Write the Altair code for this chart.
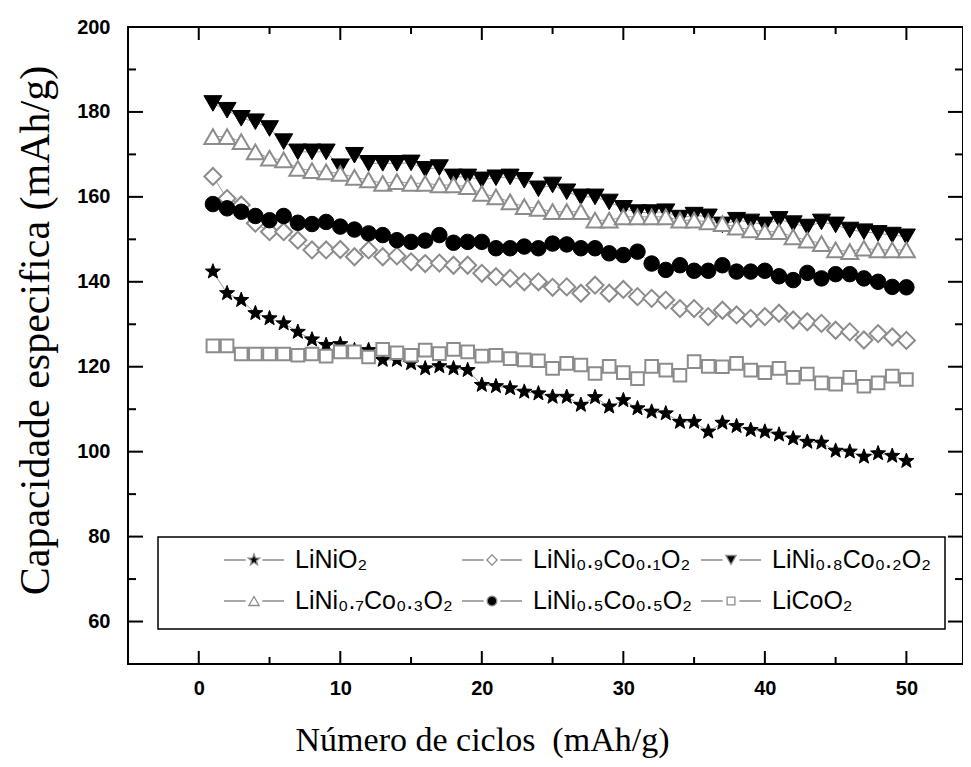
import math
import altair as alt
import pandas as pd

# ---------------- data ----------------
cycles = list(range(1, 51))

series_names = ["LiNiO₂", "LiNi₀.₉Co₀.₁O₂", "LiNi₀.₈Co₀.₂O₂",
                "LiNi₀.₇Co₀.₃O₂", "LiNi₀.₅Co₀.₅O₂", "LiCoO₂"]

lino2 = [142.4, 137.3, 135.7, 132.6, 131.4, 130.2, 128.2, 126.4, 125.1, 125.3,
         123.9, 123.9, 121.6, 121.6, 120.8, 119.6, 120.1, 119.6, 119.2, 115.7,
         115.4, 114.9, 114.1, 113.7, 112.9, 112.9, 111.0, 112.8, 110.6, 112.1,
         110.2, 109.4, 109.0, 107.0, 107.0, 104.7, 106.8, 106.0, 105.1, 104.7,
         104.0, 103.1, 102.3, 102.1, 100.2, 100.0, 98.8, 99.6, 99.0, 97.8]

ni09 = [164.8, 159.6, 158.1, 153.8, 151.8, 151.8, 149.8, 147.5, 147.5, 147.6,
        145.9, 147.5, 145.9, 146.1, 144.7, 144.3, 144.4, 143.9, 143.9, 142.0,
        141.2, 140.8, 140.0, 140.0, 138.7, 138.8, 137.3, 139.2, 137.3, 138.2,
        136.5, 136.1, 135.7, 133.7, 133.7, 131.8, 133.3, 132.2, 131.4, 131.8,
        132.6, 131.0, 130.6, 130.2, 128.6, 128.2, 126.3, 127.8, 127.0, 126.2]

ni08 = [182.0, 180.4, 178.5, 177.7, 176.1, 173.0, 170.6, 170.6, 170.6, 167.1,
        169.8, 167.9, 167.9, 167.9, 168.0, 166.5, 166.9, 164.7, 164.7, 164.0,
        164.5, 164.7, 163.9, 161.9, 162.8, 161.2, 160.0, 160.0, 158.8, 157.3,
        156.3, 156.3, 156.5, 155.0, 155.7, 155.3, 153.4, 154.5, 154.1, 153.4,
        154.7, 153.7, 152.9, 154.1, 153.4, 152.2, 151.8, 151.4, 151.0, 150.6]

ni07 = [174.2, 174.2, 173.0, 170.6, 169.1, 168.7, 166.7, 166.2, 165.9, 165.5,
        164.6, 164.0, 163.2, 163.6, 163.2, 163.2, 162.8, 162.8, 162.4, 160.8,
        160.0, 158.8, 157.7, 157.3, 156.5, 156.5, 156.5, 154.5, 154.5, 155.3,
        155.3, 155.3, 155.3, 154.5, 154.5, 154.1, 153.7, 152.9, 152.2, 151.8,
        151.8, 150.6, 149.8, 149.0, 147.5, 147.1, 147.9, 147.5, 147.5, 147.5]

ni05 = [158.3, 157.3, 156.5, 155.5, 154.5, 155.5, 153.9, 153.6, 154.1, 153.0,
        152.3, 151.4, 151.0, 149.8, 149.4, 149.7, 151.0, 149.2, 149.4, 149.4,
        147.9, 147.9, 148.3, 147.9, 149.0, 148.8, 147.9, 147.9, 146.7, 146.3,
        147.1, 144.3, 142.8, 143.9, 142.6, 142.6, 143.9, 142.4, 142.4, 142.6,
        141.3, 140.4, 142.1, 140.8, 141.8, 141.8, 140.8, 140.0, 138.8, 138.7]

licoo2 = [124.9, 124.9, 123.0, 123.0, 123.0, 123.0, 122.7, 123.0, 122.5, 123.5,
          123.5, 122.3, 124.1, 123.3, 122.7, 123.9, 123.1, 124.1, 123.5, 122.5,
          122.7, 121.9, 121.6, 121.4, 119.6, 120.8, 120.4, 118.4, 120.1, 118.6,
          117.2, 120.1, 119.2, 118.0, 121.2, 120.1, 120.0, 120.8, 119.2, 118.6,
          119.6, 117.5, 118.3, 116.2, 115.9, 117.5, 115.4, 116.2, 117.8, 117.0]

x_ticks_major = [0, 10, 20, 30, 40, 50]
x_ticks_minor = [5, 15, 25, 35, 45]
y_ticks_major = [60, 80, 100, 120, 140, 160, 180, 200]
y_ticks_minor = [70, 90, 110, 130, 150, 170, 190]

all_values = [lino2, ni09, ni08, ni07, ni05, licoo2]
rows = []
for name, vals in zip(series_names, all_values):
    for c, v in zip(cycles, vals):
        rows.append({"cycle": c, "capacity": v, "series": name})
df = pd.DataFrame(rows)

# ---------------- styles ----------------
GRAY = "#8c8c8c"
W, H = 835, 637
X_DOM = [-5, 54]
Y_DOM = [50, 200]
PX_X = W / (X_DOM[1] - X_DOM[0])
PX_Y = H / (Y_DOM[1] - Y_DOM[0])


def poly(pts):
    return "M" + "L".join(f"{x:.4f},{y:.4f}" for x, y in pts) + "Z"


def star(s):
    pts = []
    for k in range(10):
        a = math.radians(-90 + 36 * k)
        r = s if k % 2 == 0 else s * 0.42
        pts.append((r * math.cos(a), r * math.sin(a)))
    return poly(pts)


def circle(s):
    return poly([(s * math.cos(2 * math.pi * k / 24), s * math.sin(2 * math.pi * k / 24)) for k in range(24)])


STAR = star(1.0)
STUB = "M-1,0L-0.28,0M0.28,0L1,0"
legend_paths = [
    star(0.2) + STUB,
    poly([(-0.17, 0), (0, -0.17), (0.17, 0), (0, 0.17)]) + STUB,
    poly([(-0.17, -0.15), (0.17, -0.15), (0, 0.15)]) + STUB,
    poly([(-0.17, 0.15), (0.17, 0.15), (0, -0.15)]) + STUB,
    circle(0.16) + STUB,
    poly([(-0.13, -0.13), (0.13, -0.13), (0.13, 0.13), (-0.13, 0.13)]) + STUB,
]

point_styles = {
    series_names[0]: dict(shape=STAR, fill="black", stroke="black", size=250, strokeWidth=1),
    series_names[1]: dict(shape="diamond", fill="white", stroke=GRAY, size=289, strokeWidth=2),
    series_names[2]: dict(shape="triangle-down", fill="black", stroke="black", size=324, strokeWidth=1),
    series_names[3]: dict(shape="triangle-up", fill="white", stroke=GRAY, size=289, strokeWidth=2),
    series_names[4]: dict(shape="circle", fill="black", stroke="black", size=240, strokeWidth=1),
    series_names[5]: dict(shape="square", fill="white", stroke=GRAY, size=160, strokeWidth=2),
}

x_scale = alt.Scale(domain=X_DOM, nice=False, zero=False)
y_scale = alt.Scale(domain=Y_DOM, nice=False, zero=False)

# one table for the frame ticks: position value, which edge, and length in pixels
tick_rows = []
for v in x_ticks_major:
    tick_rows += [{"t": v, "edge": "bottom", "len": 13}, {"t": v, "edge": "top", "len": 13}]
for v in x_ticks_minor:
    tick_rows += [{"t": v, "edge": "bottom", "len": 7}, {"t": v, "edge": "top", "len": 7}]
for v in y_ticks_major:
    tick_rows += [{"t": v, "edge": "left", "len": 15}, {"t": v, "edge": "right", "len": 15}]
for v in y_ticks_minor:
    tick_rows += [{"t": v, "edge": "left", "len": 8}, {"t": v, "edge": "right", "len": 8}]
ticks_df = pd.DataFrame(tick_rows)
ticks_df["a"] = ticks_df["edge"].map({"bottom": Y_DOM[0], "top": Y_DOM[1], "left": X_DOM[0], "right": X_DOM[1]})
sign = ticks_df["edge"].map({"bottom": 1, "top": -1, "left": 1, "right": -1})
scale_px = ticks_df["edge"].map({"bottom": PX_Y, "top": PX_Y, "left": PX_X, "right": PX_X})
ticks_df["b"] = ticks_df["a"] + sign * ticks_df["len"] / scale_px

base = alt.Chart(df)

x_main = alt.Axis(values=x_ticks_major, orient="bottom", domain=False, ticks=False, grid=False,
                  labelFont="Liberation Sans", labelFontWeight="bold", labelFontSize=20,
                  labelColor="black", labelPadding=14,
                  title="Número de ciclos\u00a0 (mAh/g)", titleFont="Liberation Serif",
                  titleFontSize=34, titleFontWeight="normal", titleColor="black",
                  titleX=354, titleY=76, titleBaseline="middle", titleAlign="center")
y_main = alt.Axis(values=y_ticks_major, orient="left", domain=False, ticks=False, grid=False,
                  labelFont="Liberation Sans", labelFontWeight="bold", labelFontSize=20,
                  labelColor="black", labelPadding=18,
                  title="Capacidade especifica (mAh/g)", titleFont="Liberation Serif",
                  titleFontSize=42, titleFontWeight="normal", titleColor="black",
                  titleAngle=270, titleX=-93, titleY=303, titleBaseline="middle", titleAlign="center")

lines = base.mark_line(color="#9a9a9a", strokeWidth=1).encode(
    x=alt.X("cycle:Q", scale=x_scale, axis=x_main),
    y=alt.Y("capacity:Q", scale=y_scale, axis=y_main),
    detail="series:N",
)

tick_base = alt.Chart(ticks_df)
x_edge_ticks = tick_base.transform_filter(
    "datum.edge == 'bottom' || datum.edge == 'top'"
).mark_rule(color="black", strokeWidth=2).encode(
    x=alt.X("t:Q", scale=x_scale, axis=None),
    y=alt.Y("a:Q", scale=y_scale, axis=None),
    y2=alt.Y2("b:Q"),
)
y_edge_ticks = tick_base.transform_filter(
    "datum.edge == 'left' || datum.edge == 'right'"
).mark_rule(color="black", strokeWidth=2).encode(
    y=alt.Y("t:Q", scale=y_scale, axis=None),
    x=alt.X("a:Q", scale=x_scale, axis=None),
    x2=alt.X2("b:Q"),
)

# plot frame
frame = alt.Chart(pd.DataFrame({"k": [0]})).mark_rect(
    fill="transparent", stroke="black", strokeWidth=2
).encode(x=alt.value(0), x2=alt.value(W), y=alt.value(0), y2=alt.value(H))

point_layers = []
for name in series_names:
    st = point_styles[name]
    point_layers.append(
        base.transform_filter(alt.datum.series == name).mark_point(
            filled=True, opacity=1, **st
        ).encode(
            x=alt.X("cycle:Q", scale=x_scale, axis=None),
            y=alt.Y("capacity:Q", scale=y_scale, axis=None),
        )
    )

legend_box = alt.Chart(pd.DataFrame({"k": [0]})).mark_rect(
    fill="white", stroke="black", strokeWidth=1.5
).encode(x=alt.value(30), x2=alt.value(817), y=alt.value(510), y2=alt.value(602))

legend = alt.Legend(title=None, orient="none", legendX=95, legendY=502, columns=3,
                    gridAlign="none", direction="horizontal", symbolSize=3600,
                    symbolStrokeWidth=1.3, labelFont="Liberation Sans", labelFontSize=25,
                    labelColor="black", labelOffset=10, labelLimit=500,
                    columnPadding=6, rowPadding=-3, padding=0)

legend_layer = base.transform_filter("false").mark_point(size=3600, strokeWidth=1.3, opacity=1).encode(
    x=alt.X("cycle:Q", scale=x_scale, axis=None),
    y=alt.Y("capacity:Q", scale=y_scale, axis=None),
    shape=alt.Shape("series:N", scale=alt.Scale(domain=series_names, range=legend_paths), legend=legend),
    fill=alt.Fill("series:N", scale=alt.Scale(domain=series_names,
                                               range=["black", "white", "black", "white", "black", "white"])),
    stroke=alt.Stroke("series:N", scale=alt.Scale(domain=series_names, range=[GRAY] * 6)),
)

chart = alt.layer(
    lines, legend_box, *point_layers, frame, x_edge_ticks, y_edge_ticks, legend_layer
).resolve_axis(x="independent", y="independent").properties(
    width=W, height=H,
    autosize=alt.AutoSizeParams(type="none"),
    padding={"left": 120, "top": 19, "right": 0, "bottom": 95},
    background="white",
).configure_view(stroke="black", strokeWidth=2)

chart.save("out.html", embed_options={"renderer": "svg", "actions": False})
